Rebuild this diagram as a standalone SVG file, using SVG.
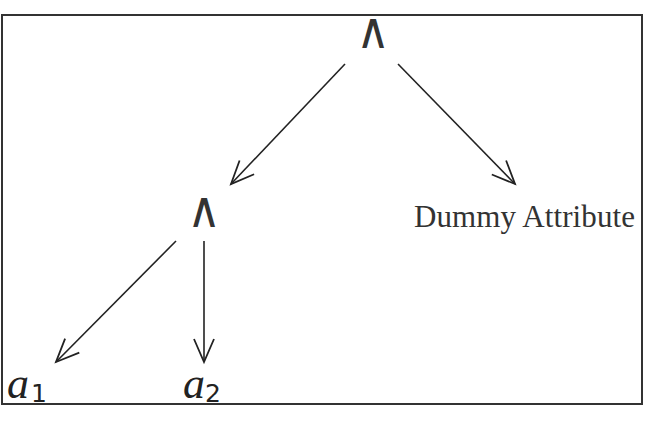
<svg xmlns="http://www.w3.org/2000/svg" width="645" height="427" viewBox="0 0 645 427">
<style>
.op{font-family:"DejaVu Sans",sans-serif;font-size:40px;fill:#333;text-anchor:middle}
.var{font-family:"Liberation Serif",serif;font-style:italic;font-size:44px;fill:#222}
.sub{font-family:"DejaVu Sans",sans-serif;font-size:25px;fill:#222}
.lbl{font-family:"Liberation Serif",serif;font-size:31px;fill:#333}
.edge{stroke:#222;stroke-width:1.6;fill:none;marker-end:url(#arr)}
</style>
<defs>
<marker id="arr" markerUnits="userSpaceOnUse" markerWidth="30" markerHeight="30" viewBox="-26 -13 30 26" refX="0" refY="0" orient="auto">
<path d="M -23 -10 L 0 0 L -23 10" fill="none" stroke="#222" stroke-width="1.8"/>
</marker>
</defs>
<rect x="2" y="15" width="640" height="389" fill="#fff" stroke="#333" stroke-width="2"/>
<g id="and-root"><text class="op" transform="translate(373,48) scale(1.15,1.25)">∧</text></g>
<g id="and-left"><text class="op" transform="translate(204,227) scale(1.15,1.25)">∧</text></g>
<g id="dummy"><text class="lbl" x="414" y="227" textLength="221">Dummy Attribute</text></g>
<g id="a1"><text class="var" x="7" y="398">a</text><text class="sub" x="31" y="402">1</text></g>
<g id="a2"><text class="var" x="183" y="398">a</text><text class="sub" x="205" y="402">2</text></g>
<g id="edges">
<path class="edge" d="M 345 64 L 231 184"/>
<path class="edge" d="M 398 64 L 515 184"/>
<path class="edge" d="M 176 241 L 56 362"/>
<path class="edge" d="M 204 241 L 204 362"/>
</g>
</svg>
